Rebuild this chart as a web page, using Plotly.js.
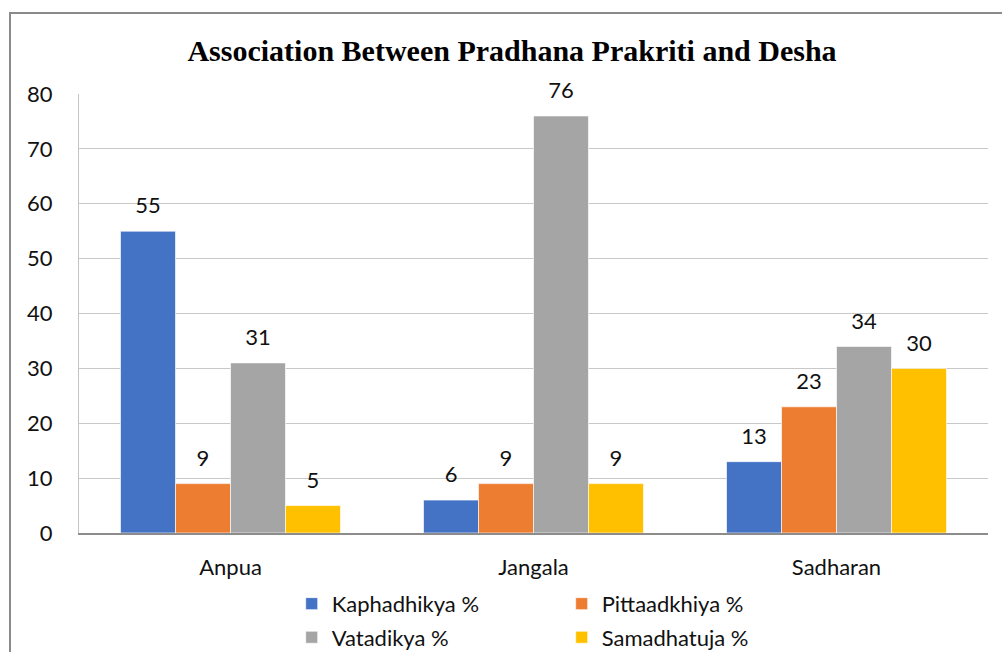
<!DOCTYPE html>
<html>
<head>
<meta charset="utf-8">
<script src="https://cdn.plot.ly/plotly-3.0.1.min.js"></script>
<style>html,body{margin:0;padding:0;background:#fff;}#chart{width:1002px;height:652px;}</style>
</head>
<body>
<div id="chart"></div>
<script>
var categories = ["Anpua", "Jangala", "Sadharan"];
var seriesNames = ["Kaphadhikya %", "Pittaadkhiya %", "Vatadikya %", "Samadhatuja %"];
var kaphadhikya = [55, 6, 13];
var pittaadkhiya = [9, 9, 23];
var vatadikya = [31, 76, 34];
var samadhatuja = [5, 9, 30];
var yTicks = [0, 10, 20, 30, 40, 50, 60, 70, 80];

var seriesValues = [kaphadhikya, pittaadkhiya, vatadikya, samadhatuja];
var colors = ["#4472C4", "#ED7D31", "#A5A5A5", "#FFC000"];
var legendFor = ["legend", "legend2", "legend", "legend2"];
var FONT = "Lato, 'Open Sans', sans-serif";
var FS = 22;

var traces = [];
seriesValues.forEach(function (vals, i) {
  traces.push({
    type: "bar", x: categories, y: vals, name: seriesNames[i],
    marker: {color: colors[i], line: {color: "rgba(255,255,255,0.8)", width: 0.8}},
    legend: legendFor[i], legendgroup: "g" + i, hoverinfo: "x+y+name"
  });
});
seriesValues.forEach(function (vals, i) {
  traces.push({
    type: "scatter", mode: "markers+text", x: categories, y: vals,
    text: vals.map(String), textposition: "top center",
    textfont: {family: FONT, size: FS, color: "#111"},
    marker: {size: 18, color: "rgba(0,0,0,0)"},
    showlegend: false, hoverinfo: "skip", cliponaxis: false
  });
});

var layout = {
  width: 1002, height: 652,
  paper_bgcolor: "#fff", plot_bgcolor: "#fff",
  margin: {l: 79, r: 14, t: 94, b: 119, autoexpand: false},
  barmode: "group", bargap: 0.274, bargroupgap: 0,
  scattermode: "group", scattergap: 0.274,
  font: {family: FONT, size: FS, color: "#111"},
  title: {
    text: "<b>Association Between Pradhana Prakriti and Desha</b>",
    font: {family: "'Liberation Serif', 'Times New Roman', serif", size: 30, color: "#000"},
    xref: "container", x: 0.511, xanchor: "center",
    yref: "container", y: 0.923, yanchor: "middle"
  },
  xaxis: {
    type: "category", showgrid: false, zeroline: false,
    showline: true, linecolor: "#8c8c8c", linewidth: 2,
    ticks: "", ticklabelstandoff: 14,
    tickfont: {family: FONT, size: FS, color: "#111"}
  },
  yaxis: {
    range: [0, 80], tickvals: yTicks, ticktext: yTicks.map(String),
    showgrid: true, gridcolor: "#c8c8c8", gridwidth: 1, zeroline: false,
    showline: true, linecolor: "#c4c4c4", linewidth: 1,
    ticks: "", ticklabelstandoff: 21,
    tickfont: {family: FONT, size: FS, color: "#111"}
  },
  legend: {
    orientation: "v", x: 0.234, xanchor: "left", y: -0.1135, yanchor: "top",
    font: {family: FONT, size: FS, color: "#111"}, itemwidth: 30,
    tracegroupgap: 2, bgcolor: "rgba(0,0,0,0)"
  },
  legend2: {
    orientation: "v", x: 0.531, xanchor: "left", y: -0.1135, yanchor: "top",
    font: {family: FONT, size: FS, color: "#111"}, itemwidth: 30,
    tracegroupgap: 2, bgcolor: "rgba(0,0,0,0)"
  },
  shapes: [{
    type: "rect", xref: "paper", yref: "paper",
    x0: -0.0759, x1: 1.3, y0: -0.6, y1: 1.1845,
    line: {color: "#8a8a8a", width: 2}, fillcolor: "rgba(0,0,0,0)", layer: "below"
  }]
};

Plotly.newPlot("chart", traces, layout, {displayModeBar: false, staticPlot: true});
</script>
</body>
</html>
